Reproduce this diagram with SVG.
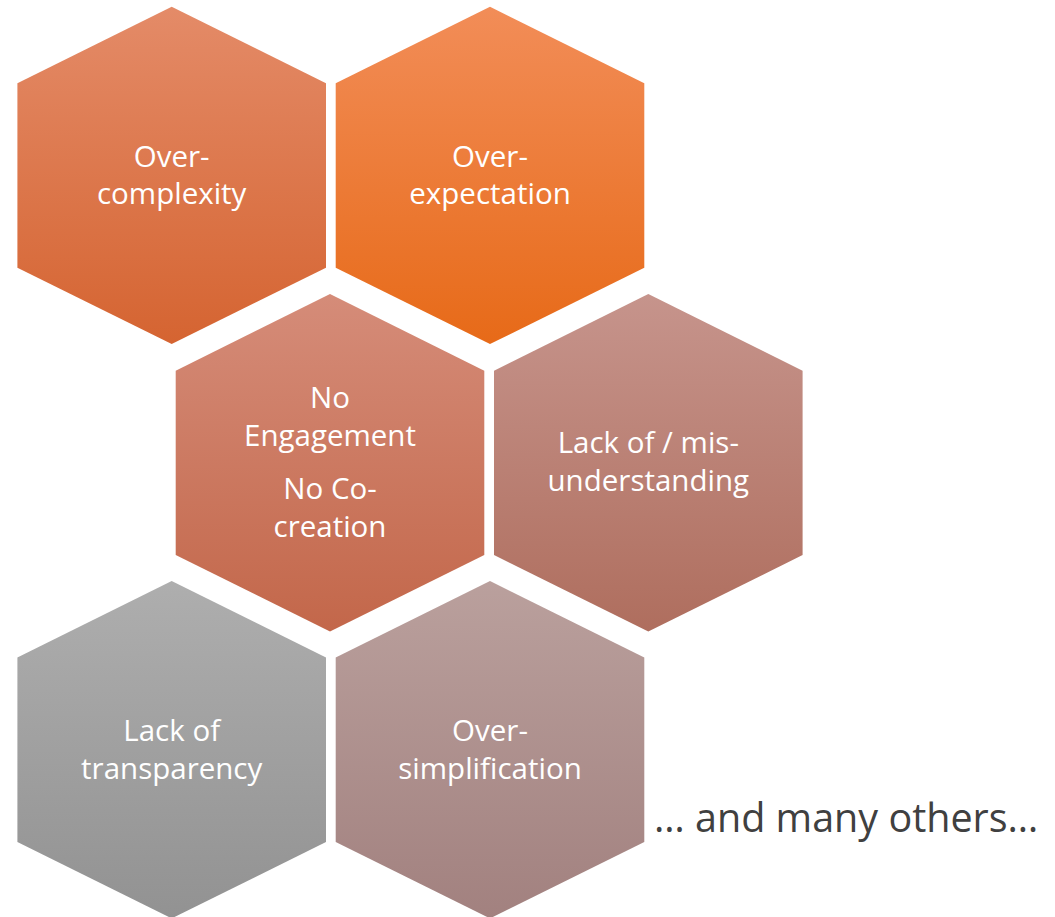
<svg xmlns="http://www.w3.org/2000/svg" width="1055" height="917" viewBox="0 0 1055 917">
<style>
.lbl{font-family:"Open Sans","Noto Sans","Liberation Sans",sans-serif;font-size:29.5px;fill:#ffffff;text-anchor:middle}
.note{font-family:"Open Sans","Noto Sans","Liberation Sans",sans-serif;font-size:39.5px;fill:#404040}
</style>
<defs>
<linearGradient id="g1" x1="0" y1="0" x2="0" y2="1"><stop offset="0" stop-color="#E48B68"/><stop offset="1" stop-color="#D56431"/></linearGradient>
<linearGradient id="g2" x1="0" y1="0" x2="0" y2="1"><stop offset="0" stop-color="#F28D58"/><stop offset="1" stop-color="#E76A18"/></linearGradient>
<linearGradient id="g3" x1="0" y1="0" x2="0" y2="1"><stop offset="0" stop-color="#D58C79"/><stop offset="1" stop-color="#C3674A"/></linearGradient>
<linearGradient id="g4" x1="0" y1="0" x2="0" y2="1"><stop offset="0" stop-color="#C6948C"/><stop offset="1" stop-color="#AF6E5E"/></linearGradient>
<linearGradient id="g5" x1="0" y1="0" x2="0" y2="1"><stop offset="0" stop-color="#AEAEAE"/><stop offset="1" stop-color="#929292"/></linearGradient>
<linearGradient id="g6" x1="0" y1="0" x2="0" y2="1"><stop offset="0" stop-color="#BAA09D"/><stop offset="1" stop-color="#A2817F"/></linearGradient>
<path id="hex" d="M0,-168.7 L154.3,-92.1 L154.3,92.3 L0,168.7 L-154.3,92.3 L-154.3,-92.1 Z"/>
</defs>
<g id="node-overcomplexity">
<use href="#hex" x="171.7" y="175.4" fill="url(#g1)"/>
<text class="lbl" x="171.7" y="167">Over-</text>
<text class="lbl" x="171.7" y="204">complexity</text>
</g>
<g id="node-overexpectation">
<use href="#hex" x="490" y="175.4" fill="url(#g2)"/>
<text class="lbl" x="490" y="167">Over-</text>
<text class="lbl" x="490" y="204">expectation</text>
</g>
<g id="node-noengagement">
<use href="#hex" x="330" y="462.8" fill="url(#g3)"/>
<text class="lbl" x="330" y="408">No</text>
<text class="lbl" x="330" y="446">Engagement</text>
<text class="lbl" x="330" y="499">No Co-</text>
<text class="lbl" x="330" y="537">creation</text>
</g>
<g id="node-misunderstanding">
<use href="#hex" x="648.3" y="462.8" fill="url(#g4)"/>
<text class="lbl" x="648.3" y="453">Lack of / mis-</text>
<text class="lbl" x="648.3" y="491">understanding</text>
</g>
<g id="node-transparency">
<use href="#hex" x="171.7" y="749.7" fill="url(#g5)"/>
<text class="lbl" x="171.7" y="741">Lack of</text>
<text class="lbl" x="171.7" y="779">transparency</text>
</g>
<g id="node-oversimplification">
<use href="#hex" x="490" y="749.7" fill="url(#g6)"/>
<text class="lbl" x="490" y="741">Over-</text>
<text class="lbl" x="490" y="779">simplification</text>
</g>
<g id="connectors"/>
<text class="note" x="654" y="832">… and many others…</text>
</svg>
